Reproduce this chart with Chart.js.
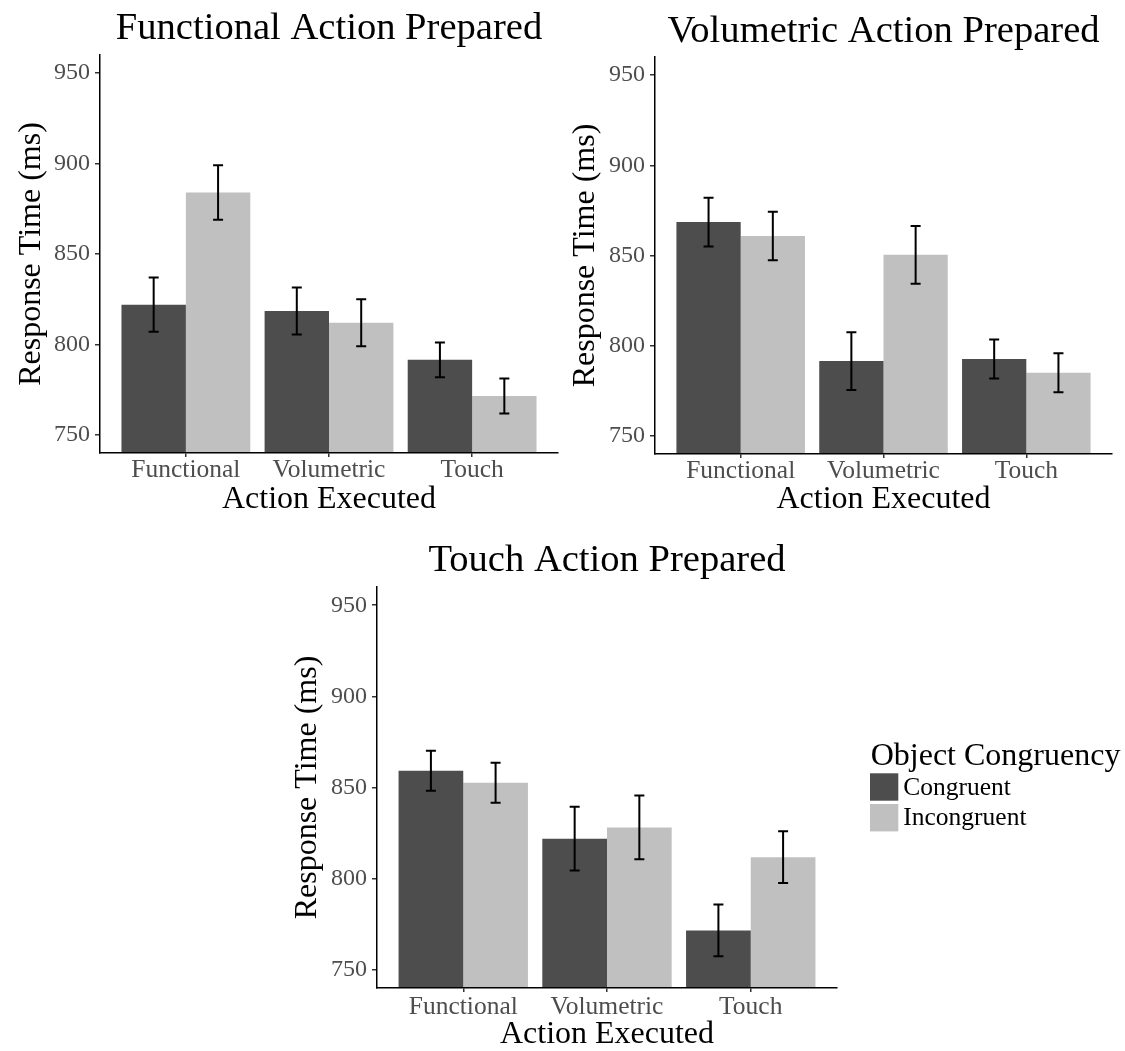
<!DOCTYPE html>
<html>
<head>
<meta charset="utf-8">
<script src="https://cdn.jsdelivr.net/npm/chart.js@4.4.1/dist/chart.umd.min.js"></script>
<style>
  html, body { margin: 0; padding: 0; background: #ffffff; width: 1125px; height: 1051px; overflow: hidden; }
  canvas { position: absolute; }
</style>
</head>
<body>
<canvas id="panelFunctional" width="560" height="520" style="left:0px;top:0px;"></canvas>
<canvas id="panelVolumetric" width="565" height="520" style="left:560px;top:0px;"></canvas>
<canvas id="panelTouch" width="845" height="526" style="left:280px;top:525px;"></canvas>
<script>
// Categories and tick labels
const categories = ['Functional', 'Volumetric', 'Touch'];
const seriesNames = ['Congruent', 'Incongruent'];
const yTickValues = [750, 800, 850, 900, 950];

// Mean response times (ms) and error-bar half widths, by action prepared
const functionalCongruent = [822, 818.5, 791.5];
const functionalCongruentErr = [15, 13, 9.6];
const functionalIncongruent = [884, 812, 771.5];
const functionalIncongruentErr = [15, 13, 9.7];

const volumetricCongruent = [868.5, 791.5, 792.6];
const volumetricCongruentErr = [13.5, 16, 10.8];
const volumetricIncongruent = [860.8, 850.4, 785];
const volumetricIncongruentErr = [13.4, 16, 10.8];

const touchCongruent = [859.2, 821.9, 771.6];
const touchCongruentErr = [11, 17.5, 14.2];
const touchIncongruent = [852.6, 828.1, 811.8];
const touchIncongruentErr = [11, 17.5, 14.2];

const SERIF = "'Liberation Serif', 'Times New Roman', Times, serif";
const DARK = '#4d4d4d';
const LIGHT = '#c0c0c0';

// Draws mean ± error whiskers on top of each bar
const errorBars = {
  id: 'errorBars',
  afterDatasetsDraw(chart) {
    const ctx = chart.ctx;
    const yScale = chart.scales.y;
    chart.data.datasets.forEach((ds, i) => {
      const meta = chart.getDatasetMeta(i);
      meta.data.forEach((bar, j) => {
        const m = ds.data[j].y;
        const e = ds.errors[j];
        const top = yScale.getPixelForValue(m + e);
        const bot = yScale.getPixelForValue(m - e);
        const half = 5;
        ctx.save();
        ctx.strokeStyle = '#000000';
        ctx.lineWidth = 2;
        ctx.beginPath();
        ctx.moveTo(bar.x, top); ctx.lineTo(bar.x, bot);
        ctx.moveTo(bar.x - half, top); ctx.lineTo(bar.x + half, top);
        ctx.moveTo(bar.x - half, bot); ctx.lineTo(bar.x + half, bot);
        ctx.stroke();
        ctx.restore();
      });
    });
  }
};

// Fill legend with a title, drawn to the right of the bottom panel
const congruencyKey = {
  id: 'congruencyKey',
  afterDraw(chart, args, opts) {
    if (!opts || !opts.display) return;
    const ctx = chart.ctx;
    ctx.save();
    ctx.fillStyle = '#000000';
    ctx.textAlign = 'left';
    ctx.textBaseline = 'alphabetic';
    ctx.font = '32px ' + SERIF;
    ctx.fillText(opts.title, opts.x + 0.7, opts.titleBaseline);
    chart.data.datasets.forEach((ds, i) => {
      const ky = opts.keyTop + i * (opts.keyH + opts.keyGap);
      ctx.fillStyle = ds.backgroundColor;
      ctx.fillRect(opts.x, ky, opts.keyW, opts.keyH);
      ctx.fillStyle = '#000000';
      ctx.font = '25.5px ' + SERIF;
      ctx.fillText(ds.label, opts.x + opts.keyW + 5, ky + opts.keyH - 6);
    });
    ctx.restore();
  }
};

function makePanel(canvasId, titleText, cong, congErr, inc, incErr, L) {
  const ctx = document.getElementById(canvasId).getContext('2d');
  return new Chart(ctx, {
    type: 'bar',
    data: {
      datasets: [
        {
          label: seriesNames[0],
          data: categories.map((c, i) => ({ x: i, y: cong[i] })),
          errors: congErr,
          backgroundColor: DARK,
          borderWidth: 0,
          categoryPercentage: 0.9,
          barPercentage: 1.0,
          clip: 0
        },
        {
          label: seriesNames[1],
          data: categories.map((c, i) => ({ x: i, y: inc[i] })),
          errors: incErr,
          backgroundColor: LIGHT,
          borderWidth: 0,
          categoryPercentage: 0.9,
          barPercentage: 1.0,
          clip: 0
        }
      ]
    },
    options: {
      responsive: false,
      animation: false,
      events: [],
      layout: { padding: { left: 0, right: L.padRight, top: 0, bottom: 0 } },
      scales: {
        x: {
          type: 'linear',
          min: -0.6,
          max: 2.6,
          offset: false,
          afterBuildTicks: (s) => { s.ticks = categories.map((c, i) => ({ value: i })); },
          afterFit: (s) => { s.height = L.xAxisH; },
          ticks: {
            callback: (v) => categories[v],
            autoSkip: false,
            maxRotation: 0,
            color: DARK,
            padding: L.xTickPad,
            font: { family: SERIF, size: 25.5, lineHeight: 1 }
          },
          grid: { display: true, offset: false, drawOnChartArea: false, drawTicks: true, tickLength: 4, color: '#333333', lineWidth: 1.5 },
          border: { display: true, color: '#000000', width: 1.5, z: 1 },
          title: {
            display: true,
            text: 'Action Executed',
            color: '#000000',
            font: { family: SERIF, size: 32, lineHeight: 1 },
            padding: { top: 0, bottom: L.xTitlePad }
          }
        },
        y: {
          min: 740,
          max: 960,
          afterBuildTicks: (s) => { s.ticks = yTickValues.map((v) => ({ value: v })); },
          afterFit: (s) => { s.width = L.yAxisW; },
          ticks: {
            color: DARK,
            padding: 5,
            font: { family: SERIF, size: 24 }
          },
          grid: { display: true, drawOnChartArea: false, drawTicks: true, tickLength: 5, color: '#333333', lineWidth: 1.5 },
          border: { display: true, color: '#000000', width: 1.5, z: 1 },
          title: {
            display: true,
            text: 'Response Time (ms)',
            color: '#000000',
            font: { family: SERIF, size: 32, lineHeight: 1 },
            padding: { top: L.yTitlePad, bottom: 0 }
          }
        }
      },
      plugins: {
        legend: { display: false },
        tooltip: { enabled: false },
        title: {
          display: true,
          text: titleText,
          fullSize: false,
          color: '#000000',
          font: { family: SERIF, size: 38.6, weight: 'normal', lineHeight: 1 },
          padding: { top: L.titleTop, bottom: L.titleBottom }
        },
        congruencyKey: L.key || { display: false }
      }
    },
    plugins: [errorBars, congruencyKey]
  });
}

makePanel('panelFunctional', 'Functional Action Prepared',
  functionalCongruent, functionalCongruentErr, functionalIncongruent, functionalIncongruentErr,
  { padRight: 2, xAxisH: 67, xTickPad: 1, xTitlePad: 4.5, yAxisW: 100, yTitlePad: 15.2, titleTop: 9.5, titleBottom: 6.9 });

makePanel('panelVolumetric', 'Volumetric Action Prepared',
  volumetricCongruent, volumetricCongruentErr, volumetricIncongruent, volumetricIncongruentErr,
  { padRight: 13, xAxisH: 66, xTickPad: 1, xTitlePad: 4.5, yAxisW: 95, yTitlePad: 9.5, titleTop: 12.5, titleBottom: 5.9 });

makePanel('panelTouch', 'Touch Action Prepared',
  touchCongruent, touchCongruentErr, touchIncongruent, touchIncongruentErr,
  { padRight: 288, xAxisH: 63, xTickPad: 2.4, xTitlePad: 0, yAxisW: 97, yTitlePad: 11.2, titleTop: 17, titleBottom: 6.4,
    key: { display: true, title: 'Object Congruency', x: 590, titleBaseline: 240, keyTop: 248.3, keyW: 28.3, keyH: 27.4, keyGap: 3.3 } });
</script>
</body>
</html>
